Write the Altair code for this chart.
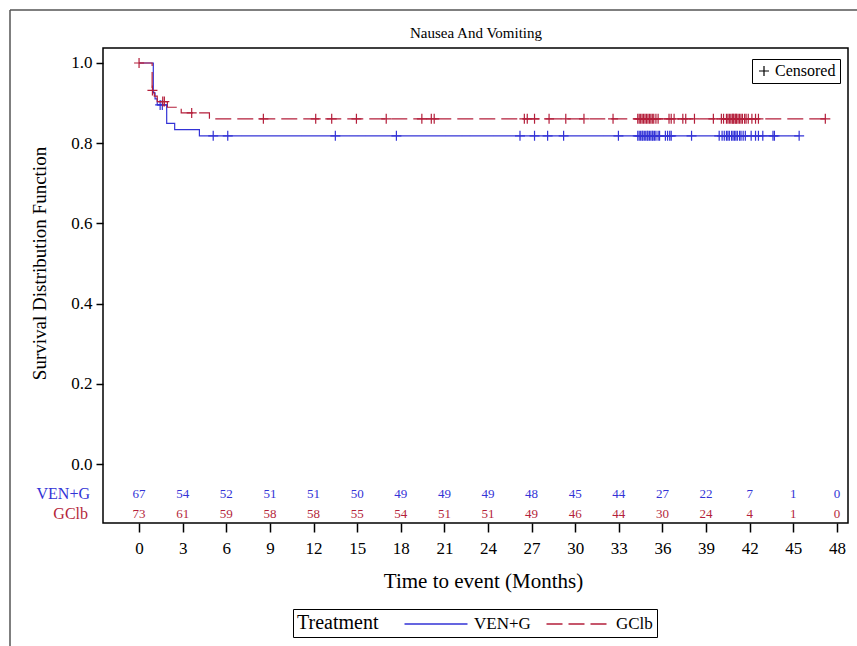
import altair as alt
import pandas as pd

groups = ["VEN+G", "GClb"]
colors = ["#3333d6", "#b41f3b"]

# Kaplan-Meier step points (time in months, survival)
ven_step_t = [0, 0.98, 1.1, 1.25, 1.9, 2.45, 4.15, 45.4]
ven_step_s = [1.0, 0.9254, 0.9104, 0.8955, 0.8492, 0.8337, 0.8183, 0.8183]
gclb_step_t = [0, 0.9, 1.05, 1.25, 1.95, 2.9, 4.84, 47.2]
gclb_step_s = [1.0, 0.9315, 0.9176, 0.9037, 0.8896, 0.8755, 0.8609, 0.8609]

# censoring times
ven_cens_t = [1.45, 1.6, 5.1, 6.1, 13.5, 17.7, 26.2, 27.2, 28.1, 29.2, 32.97,
              34.3, 34.4, 34.5, 34.6, 34.65, 34.75, 34.85, 34.95, 35.0, 35.1,
              35.2, 35.3, 35.35, 35.45, 35.55, 35.7, 35.8,
              36.2, 36.35, 36.5, 36.6, 38.0,
              39.9, 40.1, 40.25, 40.4, 40.5, 40.6, 40.75, 40.85, 40.95, 41.05,
              41.15, 41.3, 41.4, 41.55, 41.7,
              42.1, 42.4, 42.6, 42.9, 43.6, 43.7, 45.4]
gclb_cens_t = [0.0, 0.92, 1.63, 1.74, 3.62, 8.55, 12.15, 13.25, 14.95, 17.0,
               19.45, 20.1, 20.3, 26.5, 26.7, 27.2, 28.2, 29.35, 30.6, 32.6,
               34.3, 34.4, 34.5, 34.6, 34.7, 34.8, 34.9, 35.0, 35.1, 35.2,
               35.3, 35.4, 35.55, 35.7,
               36.45, 36.6, 36.8, 37.4, 37.6, 38.2,
               39.5, 40.05, 40.2, 40.4, 40.5, 40.6, 40.7, 40.8, 40.85, 40.9,
               41.0, 41.05, 41.1, 41.2, 41.3, 41.4, 41.5, 41.65, 41.75, 41.9,
               42.15, 42.4, 42.6, 47.2]

risk_times = [0, 3, 6, 9, 12, 15, 18, 21, 24, 27, 30, 33, 36, 39, 42, 45, 48]
ven_at_risk = [67, 54, 52, 51, 51, 50, 49, 49, 49, 48, 45, 44, 27, 22, 7, 1, 0]
gclb_at_risk = [73, 61, 59, 58, 58, 55, 54, 51, 51, 49, 46, 44, 30, 24, 4, 1, 0]

y_ticks = [0.0, 0.2, 0.4, 0.6, 0.8, 1.0]
title_text = ["Nausea And Vomiting"]


def surv_at(t, ts, ss):
    val = ss[0]
    for ti, si in zip(ts, ss):
        if ti <= t:
            val = si
    return val


curve_df = pd.concat([
    pd.DataFrame({"time": ven_step_t, "surv": ven_step_s, "group": groups[0]}),
    pd.DataFrame({"time": gclb_step_t, "surv": gclb_step_s, "group": groups[1]}),
])
ven_cens_df = pd.DataFrame({"time": ven_cens_t,
                            "surv": [surv_at(t, ven_step_t, ven_step_s) for t in ven_cens_t],
                            "mark": "Censored"})
gclb_cens_df = pd.DataFrame({"time": gclb_cens_t,
                             "surv": [surv_at(t, gclb_step_t, gclb_step_s) for t in gclb_cens_t],
                             "mark": "Censored"})
ven_risk_df = pd.DataFrame({"time": risk_times, "n": ven_at_risk})
gclb_risk_df = pd.DataFrame({"time": risk_times, "n": gclb_at_risk})

FONT = "Liberation Serif"
PLUS = "M-1,0H1M0,-1V1"
LONG_STROKE = "M-3.15,0H3.15"

x_scale = alt.Scale(domain=[-2.48, 48.76], nice=False, zero=False)
y_scale = alt.Scale(domain=[-0.1471, 1.0374], nice=False, zero=False)
color_scale = alt.Scale(domain=groups, range=colors)
dash_scale = alt.Scale(domain=groups, range=[[1, 0], [16, 6]])

treat_legend = alt.Legend(
    title="Treatment", orient="none", legendX=190, legendY=561,
    direction="horizontal", titleOrient="left", titleFont=FONT,
    titleFontSize=20, titleFontWeight="normal", titleColor="black",
    titleAnchor="middle", titleBaseline="middle",
    titlePadding=46, labelFont=FONT, labelFontSize=17, labelColor="black",
    symbolType=LONG_STROKE, symbolSize=400, symbolStrokeWidth=1.3,
    labelOffset=27, columnPadding=12, strokeColor="black", padding=4,
)

lines = alt.Chart(curve_df).mark_line(interpolate="step-after", strokeWidth=1.2).encode(
    x=alt.X("time:Q", scale=x_scale, axis=alt.Axis(
        values=risk_times, title="Time to event (Months)", grid=False, domain=False,
        tickSize=9, tickWidth=1.5, tickColor="black", labelPadding=8,
        labelFont=FONT, labelFontSize=17, labelColor="black", labelFlush=False,
        titleFont=FONT, titleFontSize=21, titleFontWeight="normal", titleColor="black",
        titleX=380, titleY=64, titleBaseline="alphabetic")),
    y=alt.Y("surv:Q", scale=y_scale, axis=alt.Axis(
        values=y_ticks, format=".1f", title="Survival Distribution Function",
        grid=False, domain=False, tickSize=7, tickWidth=1.5, tickColor="black",
        labelPadding=4, labelFont=FONT, labelFontSize=17, labelColor="black",
        titleFont=FONT, titleFontSize=19, titleFontWeight="normal", titleColor="black",
        titleX=-58, titleY=215, titleAngle=270, titleBaseline="alphabetic",
        titleAlign="center")),
    color=alt.Color("group:N", scale=color_scale, legend=treat_legend),
    strokeDash=alt.StrokeDash("group:N", scale=dash_scale, legend=treat_legend),
)

cens_legend = alt.Legend(
    title=None, orient="none", legendX=649, legendY=11, strokeColor="black",
    padding=4, labelFont=FONT, labelFontSize=16, labelColor="black",
    symbolSize=100, symbolStrokeColor="black", symbolStrokeWidth=1.2,
    symbolFillColor="transparent", labelOffset=3,
)
shape_scale = alt.Scale(domain=["Censored"], range=[PLUS])

cens_ven = alt.Chart(ven_cens_df).mark_point(
    filled=False, size=100, strokeWidth=1.2, opacity=1, color=colors[0]).encode(
    x="time:Q", y="surv:Q",
    shape=alt.Shape("mark:N", scale=shape_scale, legend=cens_legend))
cens_gclb = alt.Chart(gclb_cens_df).mark_point(
    filled=False, size=100, strokeWidth=1.2, opacity=1, color=colors[1]).encode(
    x="time:Q", y="surv:Q",
    shape=alt.Shape("mark:N", scale=shape_scale, legend=cens_legend))

risk_ven = alt.Chart(ven_risk_df).mark_text(
    font=FONT, fontSize=13, color=colors[0], baseline="middle").encode(
    x="time:Q", y=alt.value(446), text="n:Q")
risk_gclb = alt.Chart(gclb_risk_df).mark_text(
    font=FONT, fontSize=13, color=colors[1], baseline="middle").encode(
    x="time:Q", y=alt.value(466), text="n:Q")

lab_ven = alt.Chart(pd.DataFrame({"label": [groups[0]]})).mark_text(
    font=FONT, fontSize=16, color=colors[0], align="right", baseline="middle").encode(
    x=alt.value(-13), y=alt.value(446), text="label:N")
lab_gclb = alt.Chart(pd.DataFrame({"label": [groups[1]]})).mark_text(
    font=FONT, fontSize=16, color=colors[1], align="right", baseline="middle").encode(
    x=alt.value(-15), y=alt.value(466), text="label:N")

title_mark = alt.Chart(pd.DataFrame({"t": title_text})).mark_text(
    font=FONT, fontSize=15, color="black", align="center", baseline="middle").encode(
    x=alt.value(373), y=alt.value(-15), text="t:N")

frame_df = pd.DataFrame({"k": [0]})
frame_left = alt.Chart(frame_df).mark_rule(color="#555555", strokeWidth=1.5).encode(
    x=alt.value(-93), y=alt.value(-38), y2=alt.value(700))
frame_top = alt.Chart(frame_df).mark_rule(color="#555555", strokeWidth=1.5).encode(
    x=alt.value(-93), x2=alt.value(800), y=alt.value(-38))

chart = alt.layer(
    frame_left, frame_top, lines, cens_ven, cens_gclb,
    risk_ven, risk_gclb, lab_ven, lab_gclb, title_mark,
).properties(
    width=745, height=475,
    autosize=alt.AutoSizeParams(type="none"),
    padding={"left": 103, "top": 48, "right": 9, "bottom": 123},
).configure(
    background="white",
    view=alt.ViewConfig(stroke="black", strokeWidth=1.5),
)

chart.save("out.html", embed_options={"renderer": "svg", "actions": False})
